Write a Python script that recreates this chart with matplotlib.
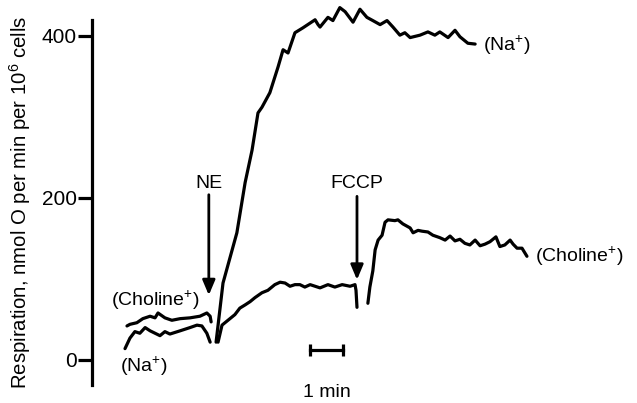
import numpy as np
import matplotlib
matplotlib.use("Agg")
import matplotlib.pyplot as plt

plt.rcParams['font.family'] = ['Liberation Sans', 'DejaVu Sans']
plt.rcParams['mathtext.fontset'] = 'custom'
plt.rcParams['mathtext.rm'] = 'Liberation Sans'
plt.rcParams['mathtext.it'] = 'Liberation Sans:italic'

# time in min, respiration in nmol O / min / 10^6 cells
na_base_t = [0.94, 1.09, 1.24, 1.39, 1.55, 1.70, 1.85, 2.00, 2.15, 2.30, 2.61, 2.91, 3.12, 3.27, 3.42, 3.52]
na_base_v = [14, 27, 35, 33, 40, 36, 33, 30, 35, 32, 36, 40, 43, 42, 33, 22]

cho_base_t = [1.00, 1.09, 1.30, 1.48, 1.70, 1.85, 1.94, 2.15, 2.36, 2.61, 2.91, 3.21, 3.42, 3.52, 3.55]
cho_base_v = [42, 44, 46, 51, 54, 52, 58, 52, 49, 51, 52, 54, 58, 54, 47]

na_ne_t = [3.70, 3.91, 4.33, 4.58, 4.79, 4.97, 5.09, 5.33, 5.58, 5.73, 5.88, 6.09, 6.33, 6.70, 6.79,
           6.85, 7.09, 7.24, 7.45, 7.61, 7.85, 8.06, 8.27, 8.45, 8.67, 8.88, 9.06, 9.27, 9.42, 9.58,
           9.88, 10.12, 10.33, 10.48, 10.73, 10.94, 11.09, 11.33, 11.55]
na_ne_v = [22, 95, 157, 219, 259, 305, 312, 330, 362, 383, 379, 404, 410, 420, 414,
           411, 423, 419, 435, 430, 417, 433, 423, 419, 414, 419, 411, 401, 404, 398,
           401, 405, 401, 405, 398, 407, 399, 391, 390]

cho_ne_t = [3.76, 3.88, 4.06, 4.27, 4.42, 4.58, 4.73, 4.88, 5.09, 5.27, 5.48, 5.64, 5.79, 5.94,
            6.09, 6.24, 6.39, 6.55, 6.70, 6.85, 7.09, 7.30, 7.52, 7.76, 7.91, 7.94, 7.97]
cho_ne_v = [22, 43, 49, 56, 64, 68, 72, 77, 83, 86, 93, 96, 95, 91,
            93, 93, 90, 93, 91, 89, 93, 90, 93, 91, 93, 86, 65]

cho_fccp_t = [8.30, 8.36, 8.45, 8.52, 8.61, 8.73, 8.82, 8.91, 9.12, 9.21, 9.36, 9.58, 9.67, 9.82,
              9.94, 10.12, 10.27, 10.48, 10.64, 10.79, 10.94, 11.09, 11.24, 11.39, 11.55, 11.70,
              11.85, 12.00, 12.18, 12.30, 12.45, 12.61, 12.70, 12.82, 12.97, 13.12]
cho_fccp_v = [70, 90, 110, 136, 148, 154, 170, 173, 172, 173, 168, 163, 157, 160,
              159, 158, 154, 151, 148, 153, 147, 149, 144, 142, 148, 141,
              143, 146, 152, 140, 142, 148, 143, 138, 138, 128]

ne_time, fccp_time = 3.48, 7.97
yticks = [0, 200, 400]

fig = plt.figure(figsize=(6.37, 4.03), dpi=100)
ax = fig.add_axes([92 / 637, 18 / 403, 545 / 637, 385 / 403])
ax.set_xlim(-0.06, 545 / 33 - 0.06)
ax.set_ylim(-30.9, 444.4)

lw = 2.3
for t, v in [(na_base_t, na_base_v), (cho_base_t, cho_base_v), (na_ne_t, na_ne_v),
             (cho_ne_t, cho_ne_v), (cho_fccp_t, cho_fccp_v)]:
    ax.plot(t, v, color='black', lw=lw, solid_joinstyle='round', solid_capstyle='round')

# axis
for s in ['top', 'right', 'bottom']:
    ax.spines[s].set_visible(False)
ax.spines['left'].set_linewidth(2.3)
ax.spines['left'].set_bounds(-30.9, 419.8)
ax.set_xticks([])
ax.set_yticks(yticks)
ax.tick_params(axis='y', length=10, width=2.3, labelsize=15, pad=1)
ax.set_ylabel('Respiration, nmol O per min per 10$^{6}$ cells', fontsize=14.7)
ax.yaxis.set_label_coords(-0.108, 0.475)

# arrows
arrow = dict(arrowstyle='-|>,head_length=0.9,head_width=0.38', color='black', lw=2, shrinkA=0, shrinkB=0)
ax.annotate('', xy=(ne_time, 80), xytext=(ne_time, 204), arrowprops=arrow)
ax.annotate('', xy=(fccp_time, 99), xytext=(fccp_time, 202), arrowprops=arrow)
ax.text(ne_time, 218, 'NE', ha='center', va='center', fontsize=14)
ax.text(fccp_time, 218, 'FCCP', ha='center', va='center', fontsize=14)

# trace labels
ax.text(1.85, 74, '(Choline$^{+}$)', ha='center', va='center', fontsize=14)
ax.text(1.52, -8, '(Na$^{+}$)', ha='center', va='center', fontsize=14, clip_on=False)
ax.text(11.79, 389, '(Na$^{+}$)', ha='left', va='center', fontsize=14)
ax.text(13.36, 128, '(Choline$^{+}$)', ha='left', va='center', fontsize=14)

# time scale bar
ax.plot([6.545, 7.545], [12.3, 12.3], color='black', lw=2.3, marker='|', ms=8, mew=2.3)
ax.text(7.045, -30, '1 min', ha='center', va='top', fontsize=14, clip_on=False)

fig.savefig('out.png', dpi=100)
